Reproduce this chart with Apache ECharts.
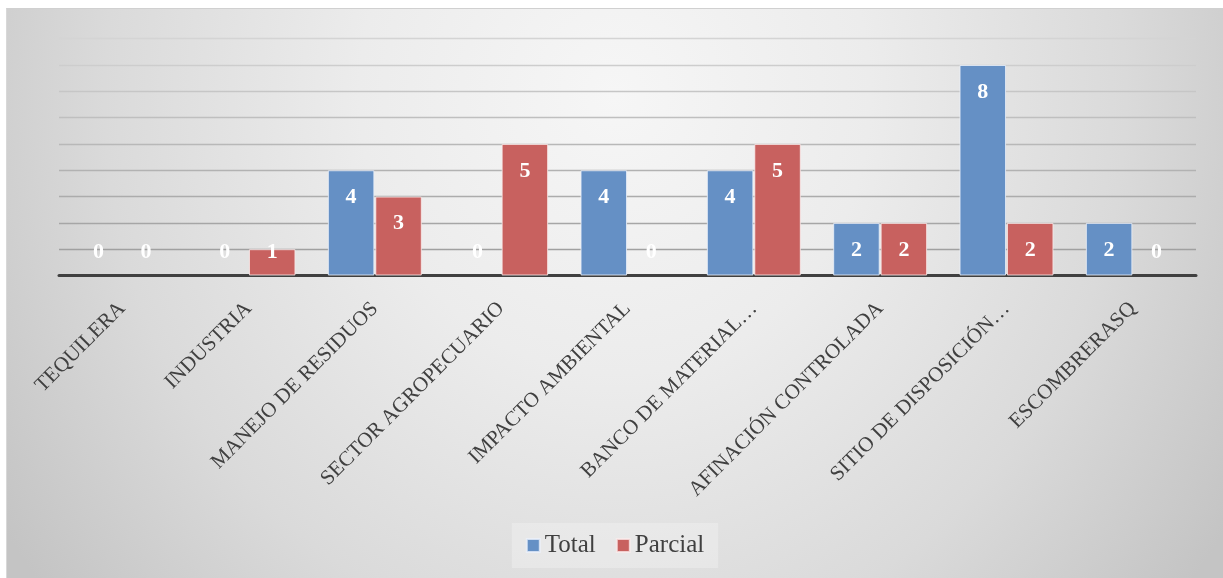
<!DOCTYPE html>
<html>
<head>
<meta charset="utf-8">
<script src="https://cdn.jsdelivr.net/npm/echarts@6/dist/echarts.min.js"></script>
<style>
html,body{margin:0;padding:0;background:#fff;width:1223px;height:578px;overflow:hidden;}
#chart{position:absolute;left:6px;top:8px;width:1217px;height:570px;
background:radial-gradient(ellipse 60% 140% at 50% 15%, #f6f6f6 0%, #ececec 35%, #dadada 70%, #c4c4c4 100%);
border-top:1px solid #d0d0d0;border-left:1px solid #d8d8d8;box-sizing:border-box;}
</style>
</head>
<body>
<div id="chart"></div>
<script>
const categories = ["TEQUILERA","INDUSTRIA","MANEJO DE RESIDUOS","SECTOR AGROPECUARIO","IMPACTO AMBIENTAL","BANCO DE MATERIAL…","AFINACIÓN CONTROLADA","SITIO DE DISPOSICIÓN…","ESCOMBRERASQ"];
const totalValues = [0,0,4,0,4,4,2,8,2];
const parcialValues = [0,1,3,5,0,5,2,2,0];
const seriesNames = ["Total","Parcial"];

const chart = echarts.init(document.getElementById('chart'));
function mk(v){
  const item = {value:v, label:{position: v>=2 ? 'insideTop' : 'insideBottom', distance: v>=2 ? 16 : 12}};
  if (v === 0) item.itemStyle = {borderWidth:0};
  return item;
}
const labelStyle = {show:true, color:'#fff', fontFamily:'Liberation Serif', fontWeight:'bold', fontSize:22, lineHeight:22};
chart.setOption({
  backgroundColor:'transparent',
  grid:{left:52, right:27, top:29.7, bottom:302.5},
  legend:{
    data:seriesNames, left:'center', top:514, icon:'rect', itemWidth:13, itemHeight:13, itemGap:20,
    padding:[10,14], backgroundColor:'rgba(255,255,255,0.25)',
    textStyle:{fontFamily:'Liberation Serif', fontSize:25, color:'#404040'}
  },
  xAxis:{
    type:'category', data:categories,
    axisLine:{lineStyle:{color:'#404040', width:3}},
    axisTick:{show:false},
    axisLabel:{interval:0, rotate:45, margin:30, fontFamily:'Liberation Serif', fontSize:21, color:'#404040'}
  },
  yAxis:{
    type:'value', min:0, max:9, interval:1,
    axisLabel:{show:false}, axisLine:{show:false}, axisTick:{show:false},
    splitLine:{lineStyle:{width:1.3, color:['#9a9a9a','#a0a0a0','#a6a6a6','#acacac','#b2b2b2','#b8b8b8','#bfbfbf','#c6c6c6','#cdcdcd','#d4d4d4']}}
  },
  series:[
    {name:seriesNames[0], type:'bar', data:totalValues.map(mk), barWidth:46.5, barGap:'2%',
     itemStyle:{color:'#6590c5', borderColor:'rgba(235,240,250,0.8)', borderWidth:1}, label:labelStyle},
    {name:seriesNames[1], type:'bar', data:parcialValues.map(mk), barWidth:46.5, barGap:'2%',
     itemStyle:{color:'#c8615f', borderColor:'rgba(250,235,235,0.8)', borderWidth:1}, label:labelStyle}
  ]
});
</script>
</body>
</html>
